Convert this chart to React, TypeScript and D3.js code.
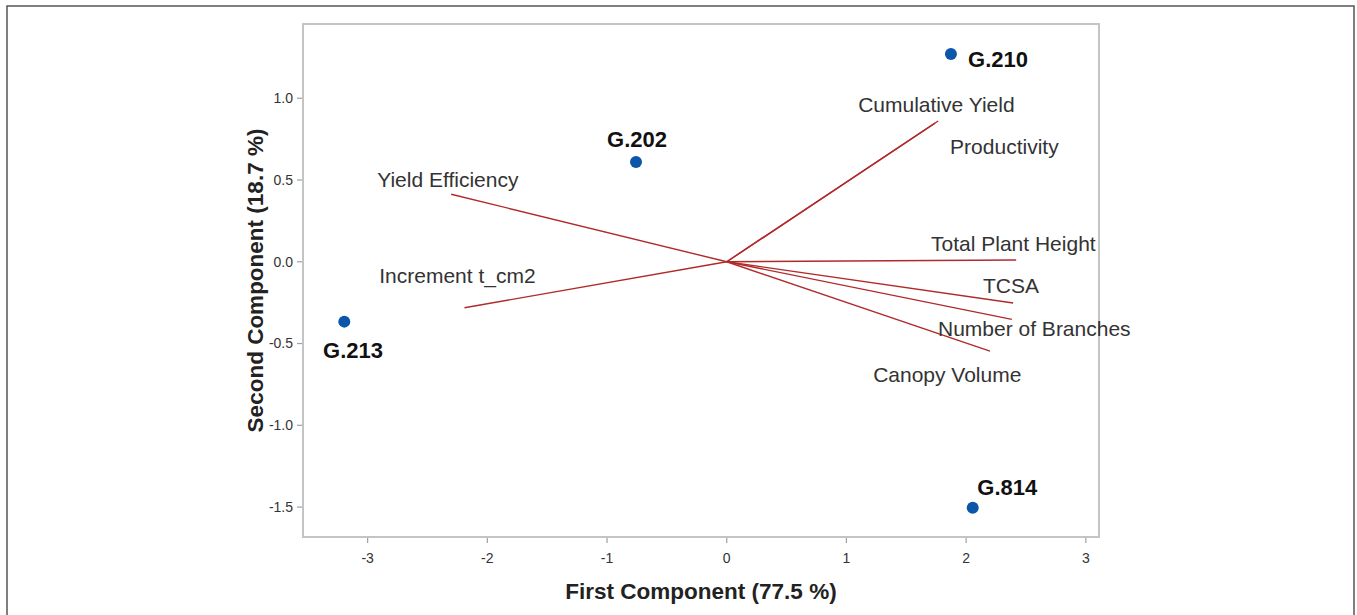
import React from 'react';
import * as d3 from 'd3';

// Scores of the four genotypes on the first two components
const genotypes = ['G.210', 'G.202', 'G.213', 'G.814'];
const scoreX = [1.873, -0.758, -3.195, 2.055];
const scoreY = [1.271, 0.61, -0.366, -1.504];
// label anchors (component units)
const genoLabelX = [2.016, -1.0, -3.372, 2.093];
const genoLabelY = [1.191, 0.702, -0.588, -1.426];

// Loadings (scaled) of the traits
const traits = [
  'Cumulative Yield',
  'Productivity',
  'Yield Efficiency',
  'Increment t_cm2',
  'Total Plant Height',
  'TCSA',
  'Number of Branches',
  'Canopy Volume',
];
const loadX = [1.766, 1.74, -2.302, -2.191, 2.418, 2.393, 2.382, 2.199];
const loadY = [0.861, 0.848, 0.413, -0.281, 0.011, -0.252, -0.352, -0.546];
const traitLabelX = [1.098, 1.866, -2.92, -2.903, 1.707, 2.141, 1.765, 1.223];
const traitLabelY = [0.916, 0.659, 0.458, -0.13, 0.066, -0.191, -0.454, -0.735];

const xTicks = [-3, -2, -1, 0, 1, 2, 3];
const yTicks = [-1.5, -1.0, -0.5, 0.0, 0.5, 1.0];

const W = 1357;
const H = 615;
const plot = { left: 303, top: 24, right: 1099, bottom: 537 };

// plain hyphen for negatives, like the original
const fmtY = (v: number) => d3.format('.1f')(v).replace('\u2212', '-');
const fmtX = (v: number) => d3.format('d')(v).replace('\u2212', '-');

const App: React.FC = () => {
  const x = d3.scaleLinear().domain([-3.54, 3.11]).range([plot.left, plot.right]);
  const y = d3.scaleLinear().domain([-1.683, 1.454]).range([plot.bottom, plot.top]);
  const font = '"Liberation Sans", Arial, sans-serif';

  return (
    <svg
      width={W}
      height={H}
      style={{ position: 'absolute', left: 0, top: 0, background: '#fff' }}
      fontFamily={font}
    >
      {/* outer figure border */}
      <rect x={7} y={6} width={1347} height={640} fill="none" stroke="#555" strokeWidth={1.5} />

      {/* plot frame */}
      <rect
        x={plot.left}
        y={plot.top}
        width={plot.right - plot.left}
        height={plot.bottom - plot.top}
        fill="#fff"
        stroke="#c4c4c4"
        strokeWidth={2}
      />

      {/* x axis */}
      {xTicks.map(t => (
        <g key={`xt${t}`} transform={`translate(${x(t)},${plot.bottom})`}>
          <line y1={1} y2={6} stroke="#a0a0a0" strokeWidth={1.2} />
          <text y={26} textAnchor="middle" fontSize={14} fill="#333">
            {fmtX(t)}
          </text>
        </g>
      ))}
      {/* y axis */}
      {yTicks.map(t => (
        <g key={`yt${t}`} transform={`translate(${plot.left},${y(t)})`}>
          <line x1={-1} x2={-6} stroke="#a0a0a0" strokeWidth={1.2} />
          <text x={-10} dy="0.35em" textAnchor="end" fontSize={14} fill="#333">
            {fmtY(t)}
          </text>
        </g>
      ))}

      <text
        x={(plot.left + plot.right) / 2}
        y={599}
        textAnchor="middle"
        fontSize={22.5}
        fontWeight="bold"
        fill="#222"
      >
        First Component (77.5 %)
      </text>
      <text
        transform={`translate(263,${(plot.top + plot.bottom) / 2}) rotate(-90)`}
        textAnchor="middle"
        fontSize={22.5}
        fontWeight="bold"
        fill="#222"
      >
        Second Component (18.7 %)
      </text>

      {/* loading vectors */}
      {traits.map((t, i) => (
        <line
          key={`v${t}`}
          x1={x(0)}
          y1={y(0)}
          x2={x(loadX[i])}
          y2={y(loadY[i])}
          stroke="#b02a2a"
          strokeWidth={1.4}
        />
      ))}
      {traits.map((t, i) => (
        <text
          key={`vl${t}`}
          x={x(traitLabelX[i])}
          y={y(traitLabelY[i])}
          fontSize={21}
          fill="#333"
        >
          {t}
        </text>
      ))}

      {/* genotype scores */}
      {genotypes.map((g, i) => (
        <circle key={`p${g}`} cx={x(scoreX[i])} cy={y(scoreY[i])} r={6} fill="#0b56a8" />
      ))}
      {genotypes.map((g, i) => (
        <text
          key={`pl${g}`}
          x={x(genoLabelX[i])}
          y={y(genoLabelY[i])}
          fontSize={22}
          fontWeight="bold"
          fill="#111"
        >
          {g}
        </text>
      ))}
    </svg>
  );
};

export default App;
